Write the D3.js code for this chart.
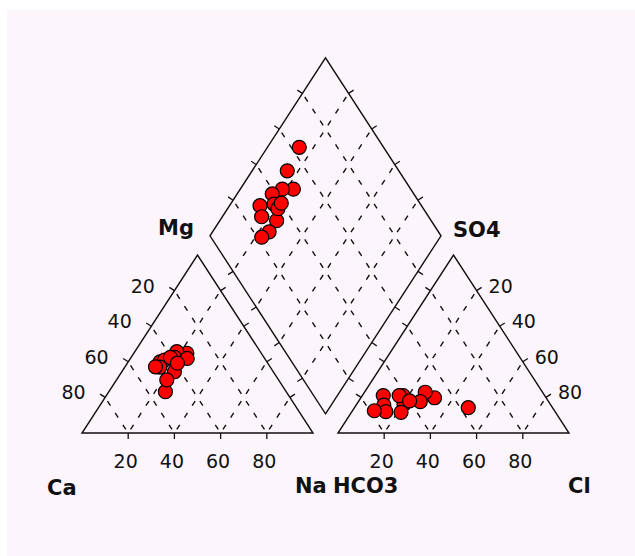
<!DOCTYPE html>
<html>
<head>
<meta charset="utf-8">
<script src="https://cdn.jsdelivr.net/npm/d3@7"></script>
<style>
  body { margin: 0; background: #fff; }
  text { font-family: "DejaVu Sans", sans-serif; }
</style>
</head>
<body>
<svg id="chart" width="635" height="556"></svg>
<script>
// cations, meq % per sample
let ca = [46.2, 43.8, 32.2, 36.1, 47.8, 38.7, 33.5, 49.6, 40.5, 52.3, 42.8, 48.4, 39.1];
let mg = [40.0, 41.0, 44.8, 45.7, 37.0, 42.5, 41.9, 37.2, 42.5, 23.2, 34.4, 29.8, 39.2];
let na = [13.8, 15.2, 23.0, 18.2, 15.2, 18.8, 24.6, 13.2, 17.0, 24.5, 22.8, 21.8, 21.7];

// anions, meq % per sample
let hco3 = [36.5, 48.3, 50.8, 55.6, 61.3, 63.4, 66.9, 69.9, 72.3, 73.3, 78.0, 63.0, 60.0];
let so4 = [14.2, 19.8, 22.9, 17.6, 21.0, 16.1, 11.6, 21.0, 15.7, 12.0, 12.5, 21.0, 18.0];
let cl = [49.3, 31.9, 26.3, 26.8, 17.7, 20.5, 21.5, 9.1, 12.0, 14.7, 9.5, 16.0, 22.0];

let tickValues = [20, 40, 60, 80];

let width = 635;
let height = 556;
let gap = 10.8;              // space between the triangles, in % units
let r3 = Math.sqrt(3) / 2;

let svg = d3.select('#chart');

// piper space is drawn in % units, then stretched onto the page
let xScale = d3.scaleLinear().domain([0, 200 + gap]).range([82, 569]);
let yScale = d3.scaleLinear().domain([0, 100 * r3]).range([433, 255]);

let px = p => [xScale(p[0]), yScale(p[1])];
let lerp = (a, b, t) => [a[0] + (b[0] - a[0]) * t, a[1] + (b[1] - a[1]) * t];
let line = d3.line().x(p => xScale(p[0])).y(p => yScale(p[1]));

// shapes
let ax = 100 + gap;
let cationTri = [[0, 0], [100, 0], [50, 100 * r3]];
let anionTri = [[ax, 0], [ax + 100, 0], [ax + 50, 100 * r3]];
let dB = [100 + gap / 2, gap * r3];
let dL = [50 + gap / 2, (100 + gap) * r3];
let dR = [150 + gap / 2, (100 + gap) * r3];
let dT = [100 + gap / 2, (200 + gap) * r3];
let diamond = [dB, dR, dT, dL];

svg.append('rect')
  .attr('x', 7).attr('y', 10)
  .attr('width', width - 7).attr('height', height - 10)
  .attr('fill', '#fcf5fc');

// grid
let grid = [];
[0, ax].forEach(x0 => {
  tickValues.forEach(k => {
    grid.push([[x0 + k, 0], [x0 + (100 + k) / 2, (100 - k) * r3]]);
    grid.push([[x0 + k, 0], [x0 + k / 2, k * r3]]);
  });
});
tickValues.forEach(k => {
  let p = lerp(dB, dR, k / 100);
  grid.push([p, [p[0] + dL[0] - dB[0], p[1] + dL[1] - dB[1]]]);
  let q = lerp(dB, dL, k / 100);
  grid.push([q, [q[0] + dR[0] - dB[0], q[1] + dR[1] - dB[1]]]);
});

let s0 = px([0, 0]);
let s1 = px([10, 20 * r3]);
let stepPx = Math.hypot(s1[0] - s0[0], s1[1] - s0[1]);
let period = stepPx / 3;
let dash = 5.5;
let lead = period / 2 - dash / 2;

svg.append('g').selectAll('path')
  .data(grid)
  .enter()
  .append('path')
  .attr('d', d => line(d))
  .attr('fill', 'none')
  .attr('stroke', '#111')
  .attr('stroke-width', 1.4)
  .attr('stroke-dasharray', `0 ${lead} ${dash} ${period - dash - lead}`);

// outlines
svg.append('g').selectAll('path')
  .data([cationTri, anionTri, diamond])
  .enter()
  .append('path')
  .attr('d', d => line(d) + 'Z')
  .attr('fill', 'none')
  .attr('stroke', '#111')
  .attr('stroke-width', 1.4)
  .attr('stroke-linejoin', 'miter');

// edge ticks
let ticks = [];
[cationTri, anionTri, diamond].forEach(shape => {
  let c = px([d3.mean(shape, p => p[0]), d3.mean(shape, p => p[1])]);
  shape.forEach((a, i) => {
    let b = shape[(i + 1) % shape.length];
    let sa = px(a), sb = px(b);
    let len = Math.hypot(sb[0] - sa[0], sb[1] - sa[1]);
    let nx = -(sb[1] - sa[1]) / len, ny = (sb[0] - sa[0]) / len;
    tickValues.forEach(k => {
      let p = lerp(sa, sb, k / 100);
      let dir = ((p[0] - c[0]) * nx + (p[1] - c[1]) * ny) > 0 ? 1 : -1;
      ticks.push([p, [p[0] + nx * dir * 6, p[1] + ny * dir * 6]]);
    });
  });
});

svg.append('g').selectAll('line')
  .data(ticks)
  .enter()
  .append('line')
  .attr('x1', d => d[0][0]).attr('y1', d => d[0][1])
  .attr('x2', d => d[1][0]).attr('y2', d => d[1][1])
  .attr('stroke', '#111')
  .attr('stroke-width', 1.3);

// sample points
let samples = d3.range(na.length);
let cationPos = i => [na[i] + mg[i] / 2, mg[i] * r3];
let anionPos = i => [ax + cl[i] + so4[i] / 2, so4[i] * r3];
let diamondPos = i => {
  let t = 200 + gap - hco3[i] - na[i];
  return [na[i] + t / 2, t * r3];
};

[cationPos, anionPos, diamondPos].forEach(pos => {
  svg.append('g').selectAll('circle')
    .data(samples)
    .enter()
    .append('circle')
    .attr('cx', i => xScale(pos(i)[0]))
    .attr('cy', i => yScale(pos(i)[1]))
    .attr('r', 7)
    .attr('fill', '#ff0000')
    .attr('stroke', '#000')
    .attr('stroke-width', 1.2);
});

// tick labels
let labels = svg.append('g').attr('font-size', 19).attr('fill', '#111');

[0, ax].forEach(x0 => {
  labels.selectAll(null)
    .data(tickValues)
    .enter()
    .append('text')
    .attr('x', k => xScale(x0 + k) - 2.5)
    .attr('y', 468)
    .attr('text-anchor', 'middle')
    .text(k => k);
});

labels.selectAll(null)
  .data(tickValues)
  .enter()
  .append('text')
  .attr('x', k => px(lerp(cationTri[2], cationTri[0], k / 100))[0] - 19.5)
  .attr('y', k => px(lerp(cationTri[2], cationTri[0], k / 100))[1] + 2)
  .attr('text-anchor', 'end')
  .text(k => k);

labels.selectAll(null)
  .data(tickValues)
  .enter()
  .append('text')
  .attr('x', k => px(lerp(anionTri[2], anionTri[1], k / 100))[0] + 12)
  .attr('y', k => px(lerp(anionTri[2], anionTri[1], k / 100))[1] + 2)
  .attr('text-anchor', 'start')
  .text(k => k);

// ion names
let names = [
  { t: 'Mg', x: 158, y: 235 },
  { t: 'SO4', x: 453, y: 237 },
  { t: 'Ca', x: 47, y: 495 },
  { t: 'Na', x: 295, y: 493 },
  { t: 'HCO3', x: 333, y: 493 },
  { t: 'Cl', x: 568, y: 493 }
];

svg.append('g').selectAll('text')
  .data(names)
  .enter()
  .append('text')
  .attr('x', d => d.x)
  .attr('y', d => d.y)
  .attr('font-size', 21)
  .attr('font-weight', 'bold')
  .attr('fill', '#111')
  .text(d => d.t);
</script>
</body>
</html>
